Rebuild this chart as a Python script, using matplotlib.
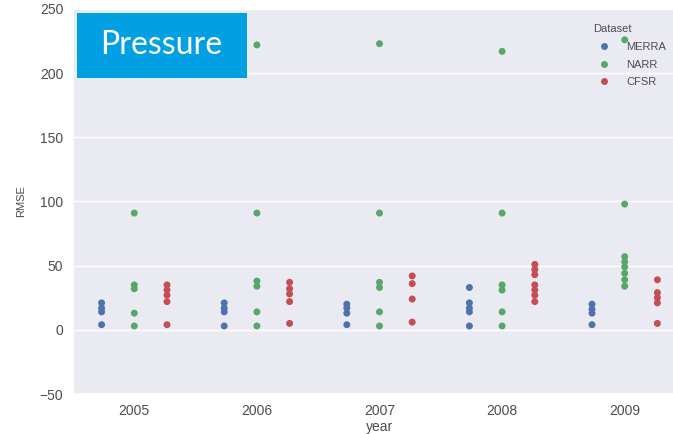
import matplotlib
matplotlib.use("Agg")
import matplotlib.pyplot as plt
import seaborn as sns
import pandas as pd
from matplotlib.patches import Rectangle

# RMSE of surface pressure per reanalysis dataset and year
years = ["2005", "2006", "2007", "2008", "2009"]
datasets = ["MERRA", "NARR", "CFSR"]

merra_rmse = [
    [21, 17, 14, 4],
    [21, 17, 14, 3],
    [20, 17, 13, 4],
    [33, 21, 17, 14, 3],
    [20, 16, 13, 4],
]
narr_rmse = [
    [222, 91, 35, 32, 13, 3],
    [222, 91, 38, 34, 14, 3],
    [223, 91, 37, 33, 14, 3],
    [217, 91, 35, 31, 14, 3],
    [226, 98, 57, 53, 49, 44, 39, 34],
]
cfsr_rmse = [
    [35, 31, 27, 22, 4],
    [37, 32, 28, 22, 5],
    [42, 36, 24, 6],
    [51, 47, 43, 35, 31, 27, 22],
    [39, 29, 25, 21, 5],
]

palette = ["#4C72B0", "#55A868", "#C44E52"]

rows = []
for name, series in zip(datasets, [merra_rmse, narr_rmse, cfsr_rmse]):
    for yr, vals in zip(years, series):
        for v in vals:
            rows.append({"year": yr, "RMSE": v, "Dataset": name})
df = pd.DataFrame(rows)

sns.set_theme(style="darkgrid")
plt.rcParams["font.family"] = ["Liberation Sans", "DejaVu Sans"]
plt.rcParams["text.color"] = "0.3"
plt.rcParams["axes.labelcolor"] = "0.3"
plt.rcParams["xtick.color"] = "0.3"
plt.rcParams["ytick.color"] = "0.3"

W, H = 673, 434
fig = plt.figure(figsize=(W / 100, H / 100), dpi=100)
ax = fig.add_axes([73 / W, 1 - 394 / H, 613 / W, 385 / H])

sns.stripplot(data=df, x="year", y="RMSE", hue="Dataset", order=years,
              hue_order=datasets, palette=palette, dodge=True, jitter=False,
              size=5, linewidth=0, ax=ax)

ax.set_ylim(-50, 250)
ax.set_xlim(-0.5, 4.5)
ax.set_yticks([-50, 0, 50, 100, 150, 200, 250])
ax.tick_params(axis="both", labelsize=10, pad=7, length=0)
ax.set_xlabel("year", fontsize=10, labelpad=2)
ax.set_ylabel("RMSE", fontsize=8, labelpad=10)

leg = ax.legend(title="Dataset", loc="upper left",
                bbox_to_anchor=(583 / W, 1 - 14 / H),
                bbox_transform=fig.transFigure, frameon=False,
                fontsize=8, title_fontsize=8, handletextpad=1.0,
                labelspacing=0.7, markerscale=1.0)
leg._legend_box.align = "left"

# Title banner
fig.patches.append(Rectangle((77 / W, 1 - 78 / H), 170 / W, 65 / H,
                             transform=fig.transFigure, facecolor="#00A0E3",
                             edgecolor="none", zorder=10))
fig.text(161 / W, 1 - 45 / H, "Pressure", color="white", fontsize=23,
         family=["Lato", "DejaVu Sans"], ha="center", va="center", zorder=11)

fig.savefig("out.png", dpi=100)
